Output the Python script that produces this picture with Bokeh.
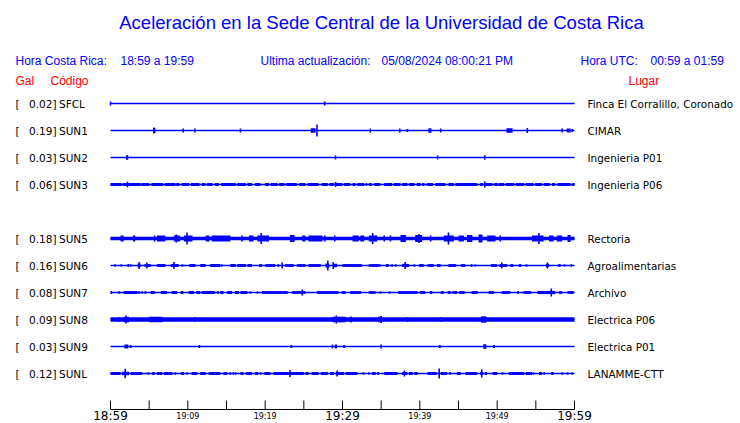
from bokeh.plotting import figure
from bokeh.models import Range1d
from bokeh.core.properties import value
from bokeh.embed import file_html
from bokeh.resources import INLINE

# ---------------- data ----------------
TITLE = "Aceleración en la Sede Central de la Universidad de Costa Rica"
HORA_CR = "18:59 a 19:59"
ACTUALIZACION = "05/08/2024 08:00:21 PM"
HORA_UTC = "00:59 a 01:59"

stations = ["SFCL", "SUN1", "SUN2", "SUN3", "SUN4", "SUN5", "SUN6", "SUN7", "SUN8", "SUN9", "SUNL"]
gal = [0.02, 0.19, 0.03, 0.06, None, 0.18, 0.16, 0.08, 0.09, 0.03, 0.12]
places = ["Finca El Corralillo, Coronado", "CIMAR", "Ingenieria P01", "Ingenieria P06", "",
          "Rectoria", "Agroalimentarias", "Archivo", "Electrica P06", "Electrica P01", "LANAMME-CTT"]
# continuous background noise level (half amplitude) per station
noise = [0, 0, 0, 0, 0, 1.8, 0, 0, 2.2, 0, 0]

# minutes after 18:59
tick_minutes = [0, 5, 10, 15, 20, 25, 30, 35, 40, 45, 50, 55, 60]
tick_labels = ["18:59", "", "19:09", "", "19:19", "", "19:29", "", "19:39", "", "19:49", "", "19:59"]
tick_major = [True, False, False, False, False, False, True, False, False, False, False, False, True]

# active intervals (t0, t1, half amplitude) and spikes (t, half amplitude)
SFCL_blocks = []
SFCL_spikes = [(0.0, 2), (27.7, 2)]

SUN1_blocks = [(5.5, 5.8, 2.5), (25.9, 26.5, 2.3), (41.1, 41.5, 2.3), (51.2, 52.0, 2.3), (59.0, 59.5, 2)]
SUN1_spikes = [(5.6, 3), (9.4, 2), (10.9, 2), (16.8, 2), (26.7, 6), (33.6, 2), (37.4, 2), (38.4, 1.5),
               (42.7, 2), (53.9, 2.5), (58.4, 2), (59.7, 1.5)]

SUN2_blocks = [(2.0, 2.3, 2.3), (29.0, 29.2, 2.0), (48.3, 48.5, 2.3)]
SUN2_spikes = [(42.3, 2)]

SUN3_blocks = [(0.0, 1.5, 1.5), (1.6, 3.9, 1.5), (4.0, 5.0, 1.5), (5.3, 6.8, 1.5), (7.0, 8.4, 1.5),
               (8.5, 8.9, 1.5), (9.2, 10.2, 1.5), (10.4, 11.5, 1.5), (11.8, 12.3, 1.5), (12.5, 13.2, 1.5),
               (13.5, 14.0, 1.5), (14.3, 16.2, 1.5), (16.4, 17.5, 1.5), (17.7, 18.3, 1.5), (18.7, 19.4, 1.5),
               (20.0, 20.5, 1.5), (20.7, 21.6, 1.5), (21.8, 22.5, 1.5), (22.7, 24.1, 1.5), (24.4, 25.2, 1.5),
               (25.5, 26.9, 1.5), (27.3, 28.1, 1.5), (28.3, 28.9, 1.5), (29.1, 30.0, 1.5), (30.2, 31.0, 1.5),
               (31.3, 31.7, 1.5), (31.9, 32.8, 1.5), (33.0, 33.2, 1.5), (33.4, 33.8, 1.5), (34.1, 34.9, 1.5),
               (35.4, 36.4, 1.5), (36.6, 37.5, 1.5), (37.7, 38.4, 1.5), (38.6, 39.3, 1.5), (39.6, 40.1, 1.5),
               (40.3, 40.6, 1.5), (40.9, 41.7, 1.5), (42.0, 43.3, 1.5), (43.7, 44.4, 1.5), (44.6, 47.4, 1.5),
               (47.8, 48.2, 1.5), (48.4, 49.4, 1.5), (49.6, 50.1, 1.5), (50.2, 50.9, 1.5), (51.1, 52.2, 1.5),
               (52.4, 53.5, 1.5), (53.7, 54.7, 1.5), (54.9, 55.8, 1.5), (56.0, 56.8, 1.5), (57.1, 57.5, 1.5),
               (57.8, 59.5, 1.5), (59.7, 60.0, 1.5)]
SUN3_spikes = [(2.2, 2.8), (29.1, 2.5), (48.4, 3)]

SUN4_blocks = []
SUN4_spikes = []

SUN5_blocks = [(1.3, 1.7, 3), (2.9, 3.2, 3), (5.6, 5.8, 3), (6.0, 7.1, 3), (8.2, 9.0, 3), (9.5, 10.6, 3),
               (12.3, 12.8, 3), (13.1, 15.5, 3), (17.9, 18.5, 3), (19.0, 20.5, 3), (23.2, 23.8, 3.5),
               (24.8, 25.2, 3), (25.6, 27.4, 3), (27.6, 27.8, 3), (28.9, 29.1, 3), (31.3, 32.1, 3),
               (32.3, 32.8, 3), (33.4, 34.5, 3), (37.5, 38.2, 3.5), (39.4, 40.3, 3.5), (43.1, 44.4, 3),
               (45.0, 45.7, 3), (46.1, 46.8, 3.5), (47.6, 48.1, 4), (48.7, 49.8, 3), (54.5, 56.0, 3),
               (56.7, 57.3, 3), (57.7, 58.4, 3), (59.1, 59.5, 3.5)]
SUN5_spikes = [(8.5, 4), (9.9, 6), (17.0, 3), (19.5, 5.5), (33.9, 5.5), (35.4, 3), (36.2, 3), (39.9, 4.5),
               (41.4, 3), (43.7, 6), (50.4, 3), (55.4, 5.5)]

SUN6_blocks = [(2.2, 2.4, 1.4), (3.5, 3.9, 1.8), (4.4, 5.2, 1.6), (6.0, 7.1, 1.4), (7.8, 8.8, 1.6),
               (10.2, 11.0, 1.4), (11.6, 12.3, 1.4), (12.9, 14.2, 1.4), (15.5, 16.2, 1.4), (16.4, 17.5, 1.4),
               (17.7, 18.3, 1.4), (19.2, 19.6, 1.4), (20.0, 21.3, 1.4), (21.6, 21.8, 1.4), (22.6, 23.7, 1.4),
               (24.1, 25.2, 1.4), (25.6, 27.2, 1.4), (27.8, 28.3, 2.0), (28.9, 29.3, 1.8), (30.0, 30.3, 1.4),
               (30.2, 32.5, 1.4), (33.4, 34.9, 1.4), (35.6, 36.0, 1.4), (37.7, 38.6, 1.6), (39.9, 40.5, 1.4),
               (41.0, 41.8, 1.4), (42.2, 42.7, 1.4), (43.7, 44.7, 1.4), (45.3, 45.9, 1.4), (46.6, 46.8, 1.4),
               (49.2, 50.0, 1.4), (50.3, 51.3, 1.4), (51.7, 52.1, 1.4), (52.8, 53.1, 1.4), (56.3, 56.7, 1.6),
               (57.9, 58.2, 1.4), (59.5, 59.7, 1.4)]
SUN6_spikes = [(0.6, 1.2), (1.4, 1.2), (2.6, 1.2), (3.7, 3.5), (4.7, 3), (8.2, 3.5), (9.3, 1.2), (14.4, 1.2),
               (22.2, 3), (28.1, 5), (28.8, 3.5), (36.4, 1.2), (36.9, 1.2), (38.1, 3.5), (39.3, 1.2),
               (47.2, 1.2), (50.6, 3), (53.8, 1.2), (56.5, 3), (58.7, 1.2)]

SUN7_blocks = [(0.0, 0.2, 1.4), (1.7, 3.5, 1.4), (5.2, 5.7, 1.4), (6.5, 7.3, 1.4), (7.9, 8.6, 1.4),
               (9.1, 9.4, 1.4), (10.1, 10.8, 1.4), (11.1, 11.6, 1.4), (11.8, 13.5, 1.4), (13.8, 14.0, 1.4),
               (14.2, 14.6, 1.4), (15.1, 15.7, 1.4), (16.1, 16.6, 1.4), (16.8, 17.7, 1.4), (19.6, 22.9, 1.4),
               (23.5, 25.2, 1.4), (26.7, 29.5, 1.4), (29.9, 30.4, 1.4), (31.0, 32.4, 1.4), (33.4, 34.3, 1.4),
               (37.2, 39.7, 1.4), (40.0, 40.7, 1.4), (41.3, 41.6, 1.4), (42.7, 43.1, 1.4), (43.6, 44.0, 1.4),
               (44.2, 44.8, 1.4), (45.1, 45.8, 1.4), (46.7, 47.5, 1.4), (48.9, 49.6, 1.4), (50.6, 51.7, 1.4),
               (52.6, 52.8, 1.4), (53.4, 54.4, 1.4), (55.2, 57.5, 1.6), (58.0, 58.4, 1.4), (59.1, 59.9, 1.4)]
SUN7_spikes = [(1.1, 1.2), (3.7, 1.2), (4.1, 1.2), (4.5, 1.2), (18.1, 1.2), (19.0, 1.2), (24.8, 3),
               (34.9, 1.2), (36.1, 1.2), (57.0, 4)]

SUN8_blocks = [(1.7, 2.4, 2.8), (5.0, 6.7, 2.8), (28.7, 30.4, 2.8), (34.6, 35.1, 2.8), (47.9, 48.6, 3.2)]
SUN8_spikes = [(1.1, 2.5), (2.0, 4), (10.9, 2.5), (29.2, 4), (31.1, 3), (35.0, 3.5), (38.4, 2.5), (42.7, 2.5)]

SUN9_blocks = [(1.8, 2.3, 2), (29.0, 29.3, 2), (48.2, 48.6, 2.3)]
SUN9_spikes = [(2.6, 1.5), (11.5, 1.5), (23.4, 1.5), (28.7, 2), (30.2, 1.5), (35.0, 2), (42.6, 1.5), (49.6, 1.5)]

SUNL_blocks = [(0.0, 1.3, 1.5), (1.5, 2.4, 1.8), (2.6, 4.1, 1.5), (5.4, 5.7, 1.5), (6.0, 6.7, 1.5),
               (6.9, 8.0, 1.5), (9.1, 9.5, 1.5), (10.5, 11.2, 1.5), (11.6, 12.3, 1.5), (12.7, 14.2, 1.5),
               (14.6, 15.1, 1.5), (16.8, 17.2, 1.5), (17.5, 18.3, 1.5), (18.7, 19.1, 1.5), (19.9, 20.7, 1.5),
               (21.1, 25.0, 1.5), (25.2, 25.6, 1.5), (26.0, 26.9, 1.5), (27.2, 28.1, 1.5), (28.4, 28.9, 1.5),
               (29.1, 30.2, 1.5), (30.4, 31.9, 1.5), (33.8, 34.3, 1.5), (34.5, 34.7, 1.5), (35.4, 37.1, 1.5),
               (37.7, 38.4, 1.5), (38.6, 39.1, 1.5), (39.3, 39.7, 1.5), (41.0, 42.2, 1.5), (42.7, 43.5, 1.5),
               (44.8, 45.3, 1.5), (45.9, 47.4, 1.5), (47.8, 48.2, 1.5), (48.4, 48.7, 1.5), (49.4, 50.0, 1.5),
               (51.5, 53.5, 1.5), (53.7, 54.5, 1.5), (55.4, 55.8, 1.5), (57.0, 57.3, 1.5)]
SUNL_spikes = [(1.9, 4.7), (4.9, 1.2), (8.4, 1.2), (9.9, 1.2), (15.5, 1.2), (15.9, 1.2), (16.2, 1.2),
               (19.4, 1.2), (23.2, 3.5), (29.3, 3), (32.7, 1.2), (33.4, 1.2), (38.0, 3), (42.5, 5),
               (43.9, 1.2), (48.0, 4), (50.7, 1.2), (54.7, 1.2), (56.1, 1.2), (58.4, 1.2), (59.1, 1.2),
               (59.7, 1.2)]

blocks = [SFCL_blocks, SUN1_blocks, SUN2_blocks, SUN3_blocks, SUN4_blocks, SUN5_blocks,
          SUN6_blocks, SUN7_blocks, SUN8_blocks, SUN9_blocks, SUNL_blocks]
spikes = [SFCL_spikes, SUN1_spikes, SUN2_spikes, SUN3_spikes, SUN4_spikes, SUN5_spikes,
          SUN6_spikes, SUN7_spikes, SUN8_spikes, SUN9_spikes, SUNL_spikes]

# ---------------- layout ----------------
W, H = 740, 423
OFF = 0                     # page offset of the canvas
X0, X1 = 110, 574           # page x of start / end of the hour
ROW0, ROWSTEP = 103, 27     # page y of first trace, trace spacing
AXIS_Y = 409
DURATION = 60.0

mpp = DURATION / (X1 - X0)
x_start = -(X0 - OFF) * mpp
x_end = DURATION + (OFF + W - X1) * mpp

p = figure(width=W, height=H, output_backend="svg", toolbar_location=None,
           x_range=Range1d(x_start, x_end), y_range=Range1d(OFF + H, OFF),
           min_border=0, background_fill_color="white", border_fill_color="white")
p.extra_x_ranges = {"px": Range1d(OFF, OFF + W)}
p.xaxis.visible = False
p.yaxis.visible = False
p.grid.visible = False
p.outline_line_color = None

BLUE = "#0000ff"
SANS = value("Liberation Sans")
DJV = value("DejaVu Sans")

rows = [ROW0 + ROWSTEP * i for i in range(len(stations))]

# traces
for i, st in enumerate(stations):
    if gal[i] is None:
        continue
    y = rows[i]
    p.segment(x0=[0], x1=[DURATION], y0=[y], y1=[y], line_color=BLUE, line_width=1.3)
    if noise[i] > 0:
        p.quad(left=[0], right=[DURATION], top=[y - noise[i]], bottom=[y + noise[i]],
               fill_color=BLUE, line_color=None)
    if blocks[i]:
        p.quad(left=[b[0] for b in blocks[i]], right=[b[1] for b in blocks[i]],
               top=[y - b[2] for b in blocks[i]], bottom=[y + b[2] for b in blocks[i]],
               fill_color=BLUE, line_color=None)
    if spikes[i]:
        p.segment(x0=[s[0] for s in spikes[i]], x1=[s[0] for s in spikes[i]],
                  y0=[y - s[1] for s in spikes[i]], y1=[y + s[1] for s in spikes[i]],
                  line_color=BLUE, line_width=1.6)

# labels left / right
lab_rows = [rows[i] for i in range(len(stations)) if gal[i] is not None]
lab_gal = [f"{gal[i]:.2f}]" for i in range(len(stations)) if gal[i] is not None]
lab_code = [stations[i] for i in range(len(stations)) if gal[i] is not None]
lab_place = [places[i] for i in range(len(stations)) if gal[i] is not None]
p.text(x=[15] * len(lab_rows), y=lab_rows, text=["["] * len(lab_rows), x_range_name="px",
       text_font=DJV, text_font_size="10.5px", text_color="black", text_baseline="middle")
p.text(x=[56] * len(lab_rows), y=lab_rows, text=lab_gal, x_range_name="px", text_align="right",
       text_font=DJV, text_font_size="10.5px", text_color="black", text_baseline="middle")
p.text(x=[58.5] * len(lab_rows), y=lab_rows, text=lab_code, x_range_name="px",
       text_font=DJV, text_font_size="10.5px", text_color="black", text_baseline="middle")
p.text(x=[587] * len(lab_rows), y=lab_rows, text=lab_place, x_range_name="px",
       text_font=DJV, text_font_size="10.4px", text_color="black", text_baseline="middle")

# time axis
p.segment(x0=[0], x1=[DURATION], y0=[AXIS_Y], y1=[AXIS_Y], line_color="black", line_width=1)
p.segment(x0=tick_minutes, x1=tick_minutes, y0=[AXIS_Y - 9] * len(tick_minutes),
          y1=[AXIS_Y] * len(tick_minutes), line_color="black", line_width=1)
big = [(t, l) for t, l, m in zip(tick_minutes, tick_labels, tick_major) if l and m]
small = [(t, l) for t, l, m in zip(tick_minutes, tick_labels, tick_major) if l and not m]
p.text(x=[t for t, _ in big], y=[AXIS_Y + 6.5] * len(big), text=[l for _, l in big],
       text_font=DJV, text_font_size="12px", text_align="center", text_baseline="middle",
       text_color="black")
p.text(x=[t for t, _ in small], y=[AXIS_Y + 6.5] * len(small), text=[l for _, l in small],
       text_font=DJV, text_font_size="8px", text_align="center", text_baseline="middle",
       text_color="black")

# header
p.text(x=[381], y=[22], text=[TITLE], x_range_name="px", text_font=SANS, text_font_size="18.5px",
       text_align="center", text_baseline="middle", text_color="#0000ff")
p.text(x=[15, 120, 260, 381, 580, 650], y=[60] * 6,
       text=["Hora Costa Rica:", HORA_CR, "Ultima actualización:", ACTUALIZACION, "Hora UTC:", HORA_UTC],
       x_range_name="px", text_font=SANS, text_font_size="12px", text_baseline="middle",
       text_color="#0000ff")
p.text(x=[15, 50, 628], y=[80] * 3, text=["Gal", "Código", "Lugar"], x_range_name="px",
       text_font=SANS, text_font_size="12px", text_baseline="middle", text_color="#ff0000")

open("out.html", "w").write(file_html(p, INLINE))
